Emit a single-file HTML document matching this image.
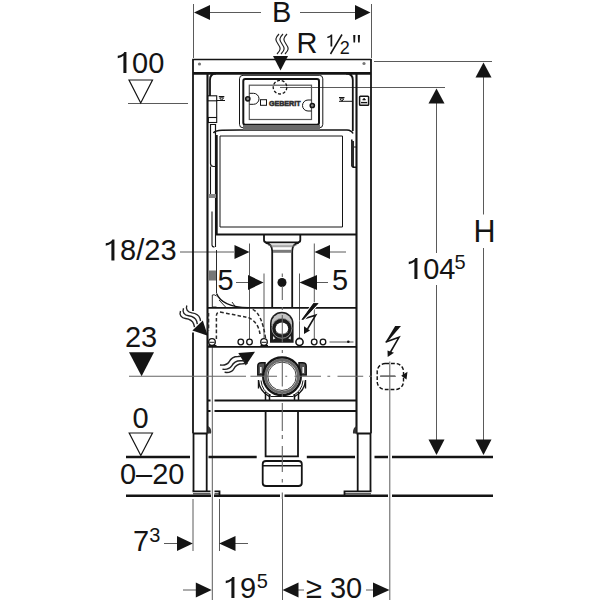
<!DOCTYPE html>
<html><head><meta charset="utf-8">
<style>
html,body{margin:0;padding:0;background:#fff;width:600px;height:600px;overflow:hidden}
svg{position:absolute;left:0;top:0;display:block}
text{font-family:"Liberation Sans",sans-serif;fill:#141414}
</style></head><body>
<svg width="600" height="600" viewBox="0 0 600 600">
<rect width="600" height="600" fill="#fff"/>

<!-- ===== dimension / extension lines (thin grey) ===== -->
<g stroke="#5a5a5a" stroke-width="1" fill="none">
  <path d="M193.5,4 V58 M371.5,4 V58"/>
  <path d="M209,12.5 H261 M300,12.5 H355"/>
  <path d="M374,61.5 H492 M280,87.5 H445"/>
  <path d="M483.5,77 V214.5 M483.5,248 V440"/>
  <path d="M436.5,103 V253 M436.5,285 V440"/>
  <path d="M128,103.5 H188"/>
  <path d="M180,252 H234 M330,252 H346 M249.5,243.5 V339 M314.3,243.5 V339"/>
  <path d="M236,282.5 H248 M317,282.5 H328 M264,273.5 V338.5 M299.5,273.5 V338.2"/>
  <path d="M389.8,361.5 V600"/>
  <path d="M193,499 V551 M212.3,347 V600 M219.5,499 V551 M282.5,499 V600"/>
  <path d="M164,543.5 H177 M235,543.5 H248 M183,590 H196 M298,590 H304 M366,590 H373"/>
</g>
<!-- arrowheads -->
<g fill="#141414">
  <path d="M194,12.5 L210,5 L210,20 Z"/>
  <path d="M370.5,12.5 L355,5 L355,20 Z"/>
  <path d="M483.5,62.5 L475.5,77.5 L491.5,77.5 Z"/>
  <path d="M436.5,88.5 L428.5,103.5 L444.5,103.5 Z"/>
  <path d="M436.5,455 L428.5,439.5 L444.5,439.5 Z"/>
  <path d="M483.5,455 L475.5,439.5 L491.5,439.5 Z"/>
  <path d="M249.5,252 L234.5,245 L234.5,259 Z"/>
  <path d="M314.5,252 L330,245 L330,259 Z"/>
  <path d="M263.5,282.5 L248,275 L248,290 Z"/>
  <path d="M299.5,282.5 L317,275 L317,290 Z"/>
  <path d="M280.5,70.5 L273,56 L288,56 Z"/>
  <path d="M192.8,543.5 L177,536 L177,551 Z"/>
  <path d="M219.2,543.5 L235.5,536 L235.5,551 Z"/>
  <path d="M211.7,590 L195.8,582.5 L195.8,597.5 Z"/>
  <path d="M282.6,590 L298.5,582.5 L298.5,597.5 Z"/>
  <path d="M389.5,590 L373,582.5 L373,597.5 Z"/>
  <path d="M129,352.3 L154,352.3 L141.6,376.3 Z"/>
  <circle cx="282" cy="282.5" r="4.5"/>
  <!-- wavy arrow heads -->
  <path d="M192.4,330.4 L202.8,320.4 L207.8,335.8 Z"/>
  <path d="M238.3,352.9 L255,351.7 L245.8,365.4 Z"/>
</g>
<!-- level triangles (open) -->
<g stroke="#141414" stroke-width="1.2" fill="none">
  <path d="M129,80 L152.5,80 L140.7,103 Z"/>
  <path d="M129.2,433 L152.5,433 L140.8,455.5 Z"/>
</g>

<!-- ===== wavy lines ===== -->
<g stroke="#222" stroke-width="1.2" fill="none">
  <path d="M279,34 c-4,4 -4,6 -1,10 c3,4 3,6 -1,10"/>
  <path d="M283,34 c-4,4 -4,6 -1,10 c3,4 3,6 -1,10"/>
  <path d="M287,34 c-4,4 -4,6 -1,10 c3,4 3,6 -1,10"/>
  <path d="M180.5,311 c-1.5,4 1,7 5,7.5 c4,0.5 7,2 8.2,5.5 l0.8,3.2" stroke-width="1.4"/>
  <path d="M183.5,308.3 c-1.5,4 1,7 5,7.5 c4,0.5 7,2 8.2,5.5 l0.6,2.8" stroke-width="1.4"/>
  <path d="M186.8,305.4 c-1.5,4 1,7 5,7.5 c4,0.5 7,2 8.2,5.5 l0.5,2.6" stroke-width="1.4"/>
  <path d="M220,365 c4,0.5 7,0 9,-3 c2,-4 5,-5.5 9,-5.5 l3.5,-0.3" stroke-width="1.4"/>
  <path d="M222.5,369.2 c4,0.5 7,0 9,-3 c2,-4 5,-5.5 9,-5.5 l4.5,0" stroke-width="1.4"/>
  <path d="M224.6,372.3 c4,0.5 7,0 9,-3 c2,-4 5,-5.5 9,-5.5 l5,-0.5" stroke-width="1.4"/>
</g>

<!-- ===== floor lines ===== -->
<g stroke="#141414" stroke-width="2.6" fill="none">
  <path d="M126,457 H190 M208.5,457 H256.7 M306.8,457 H355 M374.5,457 H388 M392,457 H493"/>
  <path d="M126,495.7 H211 M214,495.7 H280 M284.5,495.7 H388 M392,495.7 H493"/>
</g>

<!-- ===== frame ===== -->
<g stroke="#141414" stroke-width="1.8" fill="none">
  <path d="M371,59.5 V433.5 M193,59.5 V311 M193,332.5 V433.5"/>
  <path d="M192.2,59.5 H371.8" stroke-width="1.6"/>
  <path d="M193,73.3 H371" stroke-width="2.8"/>
  <path d="M207.5,72.5 V433.5 M356.5,72.5 V433.5" stroke-width="2.1"/>
  <path d="M193,433.5 H207.5 M356.5,433.5 H371"/>
  <path d="M193.5,433.5 V491 M206.7,433.5 V491 M357.7,433.5 V491 M370.5,433.5 V491"/>
  <!-- feet -->
  <path d="M192.5,491.3 H210.5 M214.5,491.3 H219.5 V495 M344.5,495 V491.3 H371.5"/>
  <path d="M193,493.8 H210.5 M214.5,493.8 H219.5 M345,493.8 H371" stroke-width="1"/>
  <!-- rails -->
  <path d="M207.5,307.8 H356.5 M207.5,346.8 H356.5 M214.5,400.5 H356.5 M214.5,411 H356.5 M207.5,400.5 H210.5 M207.5,411 H210.5"/>
  <!-- cistern box -->
  <path d="M216.8,135 V234.5 H356.5"/>
  <!-- housing -->
  <path d="M210,96 V80 Q210,73.5 216,73.5 M352.8,131 V80 Q352.8,73.5 346,73.5"/>
  <path d="M213.5,133 Q215,130.5 222,130.3 L240,130 H347 Q351.5,130.3 353,133.5" stroke-width="1.6"/>
  <!-- flush pipe -->
  <path d="M264,234.5 V240 Q264,242.3 266.5,242.3 H297.8 Q300.3,242.3 300.3,240 V234.5"/>
  <path d="M265.5,242.8 Q272.2,243.5 272.2,251 V307.8 M298.8,242.8 Q292.2,243.5 292.2,251 V307.8"/>
  <path d="M268,245.2 H296.5 M270.5,246.7 H294" stroke="#777" stroke-width="0.8"/>
  <path d="M273,251.3 H291.4" stroke="#7a7a7a" stroke-width="3"/>
  <!-- drain pipe + cap -->
  <path d="M265.6,411 V456.3 H298 V411"/>
  <path d="M262.7,483 V464 Q262.7,461 266,461 H298.5 Q301.8,461 301.8,464 V483 Q301.8,486 298.5,486 H266 Q262.7,486 262.7,483 Z"/>
  <path d="M262.5,465.8 H302" stroke-width="1.6"/>
</g>

<circle cx="199.5" cy="64" r="1.6" fill="#777"/>
<circle cx="364" cy="63.5" r="1.6" fill="#777"/>
<path d="M208,426 Q212,428 211,433.5 L207.5,433.5 Z M356.5,426 Q352.5,428 353,433.5 L356.5,433.5 Z" fill="#333"/>
<!-- cistern inner -->
<g stroke="#141414" stroke-width="1" fill="none">
  <path d="M220,136 H342.5 V227 H220 Z"/>
</g>

<!-- left post details -->
<g stroke="#141414" stroke-width="1.1" fill="none">
  <rect x="207.5" y="95.8" width="9.2" height="5"/>
  <path d="M216.7,100.8 V117"/>
  <rect x="208.3" y="117.5" width="8.4" height="5"/>
  <path d="M210.5,124.5 V163.5 Q210.5,166.5 213.5,166.5 H215.5 V124.5 Z" stroke-width="1.2"/>
  <path d="M210.5,166.5 V195 M215.5,166.5 V247"/>
  <path d="M212,211.5 V245 Q212,247 214.5,247"/>
  <path d="M216.5,250 V293 M212.3,295 V307 H216.5 M212.3,295 Q214,294 216.5,296 M219,300 L226,307.5 M232,302 L236,307.5" stroke-width="0.9"/>
  <path d="M218.8,96.5 h5.5 M219.6,97.8 h4 l-2,2.5 z M216.7,100.5 H225" stroke-width="1"/>
</g>
<rect x="209" y="270.5" width="7" height="10" fill="#777"/>
<rect x="209" y="194" width="7" height="4" fill="#888"/>
<!-- right post details -->
<g stroke="#141414" stroke-width="1.1" fill="none">
  <rect x="359.6" y="96.2" width="9" height="9" rx="0.8" stroke-width="1.5"/>
  <path d="M361,102.6 H367.2" stroke-width="1.4"/>
  <path d="M362.6,100 L364.1,98 L365.6,100 Z" fill="#141414" stroke-width="0.6"/>
  <path d="M339,97.5 h5.5 M339.8,98.8 h4 l-2,2.5 z M339,101.3 H352.5" stroke-width="1"/>
  <path d="M351.8,139.5 V165 Q351.8,167.3 354.5,167.3 H356" stroke-width="1.6"/>
  <path d="M353.5,147 H356.5 M353.5,147 V167" stroke-width="1"/>
</g>
<rect x="351" y="141" width="3" height="25" fill="#2a2a2a"/>

<!-- flush plate -->
<g stroke="#141414" stroke-width="1" fill="none">
  <rect x="239.5" y="75.3" width="83.3" height="52.5" rx="3.5"/>
  <rect x="243.3" y="79" width="75.7" height="45.7" rx="2" stroke-width="2"/>
  <rect x="249.3" y="85.2" width="62.2" height="34.3" stroke="#555" stroke-width="1.2"/>
  <circle cx="280" cy="87.2" r="6.8" stroke-dasharray="3,1.8" stroke-width="1.3"/>
  <circle cx="247.8" cy="98.8" r="2.1" stroke-width="1.5" fill="#888"/>
  <circle cx="312.3" cy="105.5" r="2.1" stroke-width="1.5" fill="#888"/>
  <path d="M249.5,93.3 H253.5 A5.5,5.5 0 0 1 253.5,104.3 H249.5"/>
  <path d="M311.5,100 H308 A5.5,5.5 0 0 0 308,111 H311.5"/>
  <rect x="260.5" y="99.7" width="6" height="5.6"/>
</g>
<rect x="243" y="125" width="77" height="5" fill="#6a6a6a"/>
<text x="269" y="105.6" font-size="8" font-weight="bold" textLength="31.5" lengthAdjust="spacingAndGlyphs" stroke="#333" stroke-width="0.6" fill="#333">GEBERIT</text>

<!-- seat curve / bowl -->
<g stroke="#141414" stroke-width="1.5" fill="none">
  <path d="M216.5,293.5 Q222,307 248.3,307.8"/>
</g>
<g stroke="#2a2a2a" stroke-width="1.5" fill="none" stroke-dasharray="3.6,2.2">
  <path d="M216.4,339 V316 Q216.4,312 220,312 Q235,315 248,317.5 Q259,322 260.2,336"/>
  <path d="M252.7,309.4 Q262,314 265.5,338"/>
  <path d="M208.3,313 V331" stroke-width="2"/>
</g>

<!-- pipe fitting arch -->
<path d="M270,342.8 V323.5 A11.8,11.8 0 0 1 293.6,323.5 V342.8 Z" fill="#1c1c1c"/>
<path d="M271.6,326 V323.5 A10.2,10.2 0 0 1 292,323.5 V326 Z" fill="#c4c4c4"/>
<circle cx="281.9" cy="328.3" r="10" fill="#1c1c1c" stroke="#999" stroke-width="0.9"/>
<ellipse cx="281.9" cy="328.4" rx="6.3" ry="5.9" fill="#fff"/>
<path d="M276,332 Q282,336 288,332" stroke="#888" stroke-width="0.8" fill="none"/>
<path d="M273,336 L275.5,338.5 L273,339.5 Z M290.8,336 L288.3,338.5 L290.8,339.5 Z" fill="#ddd"/>
<!-- rail circles -->
<g stroke="#141414" stroke-width="1.3" fill="none">
  <circle cx="212" cy="342" r="3.3"/>
  <path d="M209.5,342.3 H214.5 M208.5,345.5 H216.5" stroke-width="1"/>
  <circle cx="240.8" cy="342" r="2.8"/>
  <circle cx="249.5" cy="342" r="2.8"/>
  <circle cx="264" cy="342" r="3.3"/>
  <path d="M261.5,342.3 H266.5 M260.5,345.5 H268" stroke-width="1"/>
  <circle cx="299.5" cy="342" r="3.6" stroke-width="1.6"/>
  <circle cx="314.2" cy="342" r="2.8"/>
  <circle cx="323" cy="342" r="2.8"/>
  <path d="M329.5,342 H353.5" stroke="#555" stroke-width="1"/>
</g>
<circle cx="348.3" cy="341.8" r="1.3" fill="#141414"/>

<!-- drain elbow -->
<g fill="none" stroke="#141414">
  <path d="M257.8,375 V366 Q257.8,362.8 261.5,362.8 L265,362.8 L265,375 Z" fill="#555" stroke-width="1.5"/>
  <path d="M306.2,375 V366 Q306.2,362.8 302.5,362.8 L299,362.8 L299,375 Z" fill="#555" stroke-width="1.5"/>
  <path d="M260.8,373 V367 M303.2,373 V367" stroke="#eee" stroke-width="1.6"/>
  <path d="M258.5,388.5 V380 Q259,391 270,397 M305.5,388.5 V380 Q305,391 294,397" stroke-width="1.4"/>
  <path d="M261,380.5 Q262,391 271,395.5 M303,380.5 Q302,391 293,395.5" stroke="#1c1c1c" stroke-width="1"/>
  <circle cx="282" cy="376.3" r="18.8" stroke-width="2.4"/>
  <circle cx="282" cy="376.3" r="16.3" stroke="#6a6a6a" stroke-width="2.8"/>
  <circle cx="282" cy="376.3" r="14.2" stroke="#444" stroke-width="1"/>
  <path d="M265.5,392 V400 M269.5,394 V400 M294.5,394 V400 M298.5,392 V400" stroke-width="1.5"/>
  <path d="M270.5,396.5 H293.5" stroke-width="1"/>
</g>


<!-- ===== electrical ===== -->
<g stroke="#141414" stroke-width="1.1" fill="none">
  <rect x="377.2" y="363.5" width="26.3" height="26" rx="8" stroke-dasharray="3.8,2" stroke-width="1.4"/>
  <path d="M302.3,319.3 L315.7,315.2 L307.5,329" stroke-width="1.6"/>
  <path d="M385.8,342 L399,337.3 L390.5,352" stroke-width="1.6"/>
  <path d="M380.3,376 H395" stroke="#555"/>
</g>
<g fill="#141414">
  <path d="M313.5,303.3 L318.5,303.3 L303.5,319.6 L301.5,319.8 Z" stroke="#fff" stroke-width="2.2" paint-order="stroke"/>
  <path d="M313.5,303.3 L318.5,303.3 L303.5,319.6 L301.5,319.8 Z"/>
  <path d="M395.2,326 L401,326 L387,342.2 L385.2,342.4 Z"/>
  <path d="M304,326.3 L310,330.5 L304,334 Z"/>
  <path d="M387.5,350.5 L394,352.7 L387.7,357 Z"/>
  <path d="M401.2,375.8 L407.5,371.8 L406.5,379.5 Z"/>
</g>

<!-- ===== centre lines ===== -->
<g stroke="#666" stroke-width="1.1" fill="none">
  <path d="M282.3,273.5 V277 M282.3,286 V300 M282.3,307 V310 M282.3,315 V343 M282.3,350 V353 M282.3,359.5 V386.5 M282.3,393 V397 M282.3,403 V431 M282.3,435 V439 M282.3,446 V472 M282.3,479 V482.6 M282.3,492.5 V499"/>
  <path d="M129,376.3 H246 M250.4,376.3 H277 M285.3,376.3 H287.2 M294.5,376.3 H321 M327.4,376.3 H330.2 M337.5,376.3 H363.2 M369,376.3 H372 M380,376.3 H396"/>
</g>
<!-- ===== text ===== -->
<g font-size="29">
  <text x="272" y="21.5" transform="matrix(1,0,0,1.04,0,-0.86)">B</text>
  <text x="296.5" y="53.5" transform="matrix(1,0,0,1.04,0,-2.14)">R</text>
  <path d="M353.2,35 h2.2 l-0.3,7.5 h-1.6 Z M357.8,35 h2.2 l-0.3,7.5 h-1.6 Z" fill="#141414"/>
  <text x="116" y="73" transform="matrix(1,0,0,1.04,0,-2.92)"><tspan fill="transparent">1</tspan>00</text>
  <text x="104" y="260.5" transform="matrix(1,0,0,1.04,0,-10.42)"><tspan fill="transparent">1</tspan>8/23</text>
  <text x="217.5" y="290" transform="matrix(1,0,0,1.04,0,-11.60)">5</text>
  <text x="332" y="290" transform="matrix(1,0,0,1.04,0,-11.60)">5</text>
  <text x="125" y="346.6" transform="matrix(1,0,0,1.04,0,-13.86)">23</text>
  <text x="473.6" y="242" font-size="30.5" transform="matrix(1,0,0,1.04,0,-9.68)">H</text>
  <text x="407" y="279" transform="matrix(1,0,0,1.04,0,-11.16)"><tspan fill="transparent">1</tspan>04</text>
  <text x="132.5" y="427.8" transform="matrix(1,0,0,1.04,0,-17.11)">0</text>
  <text x="120" y="484.5" transform="matrix(1,0,0,1.04,0,-19.38)">0–20</text>
  <text x="133" y="551.3" transform="matrix(1,0,0,1.04,0,-22.05)">7</text>
  <text x="224" y="598" transform="matrix(1,0,0,1.04,0,-23.92)"><tspan fill="transparent">1</tspan>9</text>
  <text x="306" y="598" transform="matrix(1,0,0,1.04,0,-23.92)">≥ 30</text>
</g>
<g font-size="20">
  <text x="454.5" y="269.3" transform="matrix(1,0,0,1.04,0,-10.77)">5</text>
  <text x="149.3" y="541.7" transform="matrix(1,0,0,1.04,0,-21.67)">3</text>
  <text x="256.8" y="588" transform="matrix(1,0,0,1.04,0,-23.52)">5</text>
</g>

<path d="M330.5,54 L342,34.5" stroke="#141414" stroke-width="1.5"/>
<text x="339.8" y="53.8" font-size="18" transform="matrix(1,0,0,1.04,0,-2.15)">2</text>
<path d="M0.255,0 H0.36 V0.695 H0.285 Q0.255,0.605 0.06,0.57 V0.49 Q0.185,0.505 0.255,0.57 Z" transform="translate(116,73) scale(29,-30.160)" fill="#141414"/>
<path d="M0.255,0 H0.36 V0.695 H0.285 Q0.255,0.605 0.06,0.57 V0.49 Q0.185,0.505 0.255,0.57 Z" transform="translate(104,260.5) scale(29,-30.160)" fill="#141414"/>
<path d="M0.255,0 H0.36 V0.695 H0.285 Q0.255,0.605 0.06,0.57 V0.49 Q0.185,0.505 0.255,0.57 Z" transform="translate(407,279) scale(29,-30.160)" fill="#141414"/>
<path d="M0.255,0 H0.36 V0.695 H0.285 Q0.255,0.605 0.06,0.57 V0.49 Q0.185,0.505 0.255,0.57 Z" transform="translate(224,598) scale(29,-30.160)" fill="#141414"/>
<path d="M0.255,0 H0.36 V0.695 H0.285 Q0.255,0.605 0.06,0.57 V0.49 Q0.185,0.505 0.255,0.57 Z" transform="translate(326.3,46.5) scale(16.5,-17.160)" fill="#141414"/>
</svg>
</body></html>
